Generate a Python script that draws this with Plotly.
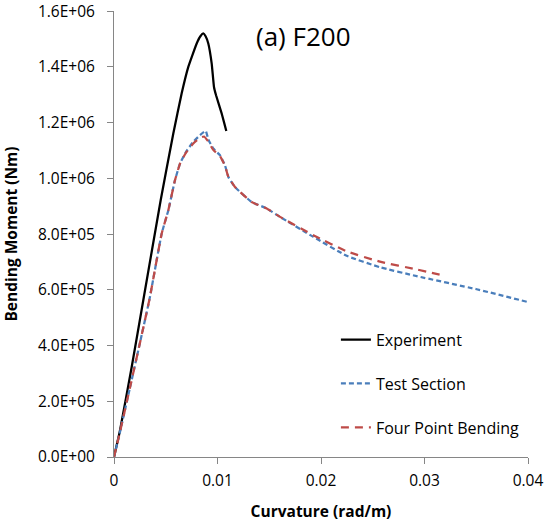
import plotly.graph_objects as go

# Experiment (black solid)
exp_x = [0.0, 0.00058, 0.00171, 0.00283, 0.00451, 0.00573, 0.00654, 0.00718,
         0.00799, 0.00835, 0.00863, 0.00885, 0.00911, 0.00944, 0.00966, 0.00986,
         0.0104, 0.01085]
exp_y = [0, 95000, 323000, 562600, 921500, 1161000, 1305000, 1400000,
         1484000, 1510000, 1520000, 1510000, 1484000, 1412000, 1328000, 1298000,
         1233000, 1170000]

# Test Section (blue square-dot)
ts_x = [0.0, 0.00058, 0.00341, 0.00461, 0.00525, 0.00589, 0.00638, 0.00696,
        0.00766, 0.00831, 0.00886, 0.00911, 0.00959, 0.01024, 0.01072, 0.01105,
        0.01169, 0.0133, 0.01475, 0.01604, 0.01926, 0.02248, 0.0257, 0.02925,
        0.03504, 0.0400]
ts_y = [0, 90000, 562600, 802000, 885600, 993000, 1053000, 1095000,
        1131000, 1155000, 1170000, 1140000, 1107000, 1083000, 1047000, 1005000,
        969000, 915000, 892000, 861600, 790000, 722000, 681000, 649000,
        602000, 556000]

# Four Point Bending (red dashed)
fp_x = [0.0, 0.00058, 0.00341, 0.00461, 0.00525, 0.00589, 0.00638, 0.00696,
        0.00766, 0.00831, 0.00870, 0.00911, 0.00959, 0.01024, 0.01072, 0.01105,
        0.01169, 0.0133, 0.01475, 0.01604, 0.01926, 0.02248, 0.0257, 0.02925,
        0.0320]
fp_y = [0, 90000, 562600, 802000, 885600, 993000, 1053000, 1092000,
        1125000, 1145000, 1150000, 1132000, 1102000, 1080000, 1045000, 1005000,
        969000, 915000, 892000, 861600, 796000, 738000, 701000, 673000,
        650000]

x_tickvals = [0, 0.01, 0.02, 0.03, 0.04]
x_ticktext = ["0", "0.01", "0.02", "0.03", "0.04"]
y_tickvals = [0, 200000, 400000, 600000, 800000, 1000000, 1200000, 1400000, 1600000]
y_ticktext = ["0.0E+00", "2.0E+05", "4.0E+05", "6.0E+05", "8.0E+05",
              "1.0E+06", "1.2E+06", "1.4E+06", "1.6E+06"]

FONT = "Open Sans"

fig = go.Figure()
fig.add_trace(go.Scatter(x=exp_x, y=exp_y, mode="lines", name="Experiment",
                         line=dict(color="#000000", width=2.25, shape="spline", smoothing=0.35),
                         legendgroup="a"))
fig.add_trace(go.Scatter(x=ts_x, y=ts_y, mode="lines", name="Test Section",
                         line=dict(color="#4A7EBB", width=2.25, dash="5px,3px", shape="spline", smoothing=0.4),
                         legendgroup="b"))
fig.add_trace(go.Scatter(x=fp_x, y=fp_y, mode="lines", name="Four Point Bending",
                         line=dict(color="#BE4B48", width=2.25, dash="8px,6px", shape="spline", smoothing=0.4),
                         legendgroup="c"))

fig.update_layout(
    width=550, height=522,
    margin=dict(l=114, r=22, t=11, b=65, autoexpand=False),
    paper_bgcolor="white", plot_bgcolor="white",
    font=dict(family=FONT, size=15, color="#000000"),
    showlegend=True,
    legend=dict(x=0.536, y=0.301, xanchor="left", yanchor="top",
                traceorder="grouped", tracegroupgap=20,
                font=dict(family=FONT, size=16, color="#000000"),
                bgcolor="rgba(0,0,0,0)"),
    annotations=[dict(text="(a) F200", x=(303 - 114) / 414, y=(457 - 36) / 446, xref="paper", yref="paper",
                      xanchor="center", yanchor="middle", showarrow=False,
                      font=dict(family=FONT, size=26, color="#000000"))],
)
fig.update_xaxes(range=[0, 0.04], tickvals=x_tickvals, ticktext=x_ticktext,
                 showgrid=False, zeroline=False, showline=True, linecolor="#868686",
                 linewidth=1, ticks="outside", ticklen=6, tickcolor="#868686",
                 tickfont=dict(family=FONT, size=15.5), automargin=False, ticklabelstandoff=3,
                 ticklabeloverflow="allow",
                 title=dict(text="<b>Curvature (rad/m)</b>", font=dict(family=FONT, size=15.5), standoff=22))
fig.update_yaxes(range=[0, 1600500], tickvals=y_tickvals, ticktext=y_ticktext,
                 showgrid=False, zeroline=False, showline=True, linecolor="#868686",
                 linewidth=1, ticks="outside", ticklen=6, tickcolor="#868686",
                 tickfont=dict(family=FONT, size=15.5), automargin=False, ticklabelstandoff=9,
                 ticklabeloverflow="allow",
                 title=dict(text="<b>Bending Moment (Nm)</b>", font=dict(family=FONT, size=15.5), standoff=18))

fig.write_html("out.html", config={"displayModeBar": False},
               post_script="document.body.style.margin='0px';document.body.style.overflow='hidden';")
